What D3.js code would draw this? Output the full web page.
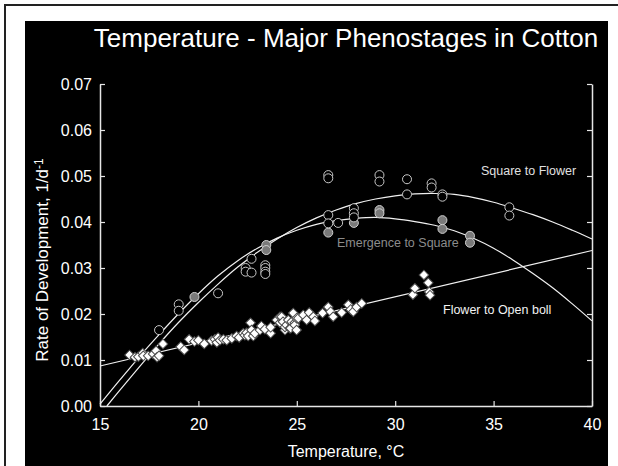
<!DOCTYPE html>
<html>
<head>
<meta charset="utf-8">
<script src="https://cdn.jsdelivr.net/npm/d3@7"></script>
<style>
  body { margin: 0; background: #fff; }
  svg { display: block; font-family: "Liberation Sans", Arial, sans-serif; }
</style>
</head>
<body>
<div id="chart"></div>
<script>
const sqFlowerT = [18.0, 19.0, 19.0, 21.0, 22.4, 22.4, 22.7, 22.7, 23.4, 23.4, 23.4, 23.4, 26.6, 26.6, 26.6, 26.6, 27.1, 27.9, 27.9, 27.9, 29.2, 29.2, 30.6, 30.6, 31.85, 31.85, 32.4, 32.4, 35.8, 35.8];
const sqFlowerV = [0.0165, 0.0221, 0.0207, 0.0245, 0.0300, 0.0292, 0.0320, 0.0290, 0.0306, 0.0300, 0.0292, 0.0287, 0.0502, 0.0495, 0.0415, 0.0397, 0.0398, 0.0430, 0.0419, 0.0410, 0.0502, 0.0488, 0.0493, 0.0460, 0.0484, 0.0475, 0.0460, 0.0455, 0.0432, 0.0414];

const emSquareT = [19.8, 23.45, 23.45, 26.6, 27.9, 29.2, 29.2, 32.4, 32.4, 33.8, 33.8];
const emSquareV = [0.0237, 0.0350, 0.0339, 0.0377, 0.0398, 0.0426, 0.0419, 0.0404, 0.0385, 0.0370, 0.0355];

const flBollT = [16.5, 16.78, 16.95, 17.17, 17.2, 17.45, 17.7, 17.85, 17.9, 18.0, 18.2, 19.1, 19.28, 19.53, 19.8, 20.0, 20.3, 20.67, 20.84, 20.94, 21.0, 21.1, 21.27, 21.44, 21.7, 21.94, 22.07, 22.28, 22.36, 22.45, 22.53, 22.65, 22.7, 22.79, 22.87, 23.13, 23.2, 23.38, 23.67, 23.67, 23.98, 24.15, 24.15, 24.23, 24.3, 24.4, 24.4, 24.48, 24.57, 24.65, 24.69, 24.74, 24.82, 24.9, 24.9, 24.99, 24.99, 25.08, 25.33, 25.5, 25.63, 25.84, 25.92, 26.31, 26.6, 26.72, 26.85, 27.28, 27.62, 27.74, 27.87, 28.04, 28.3, 30.9, 31.0, 31.46, 31.68, 31.73, 31.77];
const flBollV = [0.0111, 0.0106, 0.0107, 0.0115, 0.0109, 0.0109, 0.0113, 0.0120, 0.0106, 0.0109, 0.0135, 0.0129, 0.0122, 0.0145, 0.0140, 0.0143, 0.0135, 0.0142, 0.0145, 0.0138, 0.0149, 0.0143, 0.0145, 0.0143, 0.0147, 0.0152, 0.0149, 0.0158, 0.0154, 0.0159, 0.0152, 0.0181, 0.0165, 0.0152, 0.0158, 0.0165, 0.0174, 0.0167, 0.0158, 0.0171, 0.0187, 0.0181, 0.0194, 0.0194, 0.0183, 0.0165, 0.0172, 0.0176, 0.0187, 0.0169, 0.0169, 0.0183, 0.0202, 0.0181, 0.0176, 0.0165, 0.0191, 0.0191, 0.0198, 0.0187, 0.0203, 0.0194, 0.0185, 0.0202, 0.0215, 0.0205, 0.0194, 0.0203, 0.0220, 0.0210, 0.0205, 0.0215, 0.0223, 0.0242, 0.0256, 0.0285, 0.0268, 0.0248, 0.0241];

// Fitted curves
const fitSqFlowerT = [15.35, 16, 17, 18, 19, 20, 21, 22, 23, 24, 25, 26, 27, 28, 29, 30, 31, 32, 33, 34, 35, 36, 37, 38, 39, 40];
const fitSqFlowerV = [0, 0.0034, 0.0085, 0.0135, 0.0182, 0.0225, 0.0265, 0.0302, 0.0334, 0.0363, 0.0388, 0.0409, 0.0426, 0.0440, 0.0450, 0.0457, 0.0461, 0.0462, 0.0460, 0.0453, 0.0443, 0.0430, 0.0416, 0.0400, 0.0382, 0.0363];

const fitEmSquareT = [15, 16, 17, 18, 19, 20, 21, 22, 23, 24, 25, 26, 27, 28, 29, 30, 31, 32, 33, 34, 35, 36, 37, 38, 39, 40];
const fitEmSquareV = [0.0004, 0.0056, 0.0107, 0.0155, 0.0201, 0.0244, 0.0283, 0.0316, 0.0343, 0.0365, 0.0382, 0.0395, 0.0403, 0.0408, 0.0410, 0.0407, 0.0401, 0.0393, 0.0381, 0.0364, 0.0343, 0.0317, 0.0288, 0.0257, 0.0222, 0.0185];

const fitFlBollT = [15, 40];
const fitFlBollV = [0.0087, 0.0338];

const xTicks = [15, 20, 25, 30, 35, 40];
const yTicks = [0, 0.01, 0.02, 0.03, 0.04, 0.05, 0.06, 0.07];

const W = 618, H = 466;
const svg = d3.select('#chart').append('svg')
    .attr('width', W)
    .attr('height', H);

// page frame and black panel
svg.append('rect')
    .attr('x', 5).attr('y', 5)
    .attr('width', W + 20).attr('height', H + 20)
    .attr('fill', '#fff')
    .attr('stroke', '#222')
    .attr('stroke-width', 2);

svg.append('rect')
    .attr('x', 25).attr('y', 21)
    .attr('width', 583).attr('height', H - 21)
    .attr('fill', '#000');

const x = d3.scaleLinear().domain([15, 40]).range([100, 592]);
const y = d3.scaleLinear().domain([0, 0.07]).range([406, 84]);

// Title
svg.append('text')
    .attr('x', 346).attr('y', 47)
    .attr('text-anchor', 'middle')
    .attr('fill', '#fff')
    .style('font-size', '26px')
    .text('Temperature - Major Phenostages in Cotton');

// Axes
const axisColor = '#e6e6e6';
const fmt = d3.format('.2f');

const gL = svg.append('g')
    .attr('transform', `translate(${x(15)},0)`)
    .call(d3.axisLeft(y).tickValues(yTicks).tickFormat(fmt).tickSizeInner(-5).tickSizeOuter(0).tickPadding(8));

const gR = svg.append('g')
    .attr('transform', `translate(${x(40)},0)`)
    .call(d3.axisRight(y).tickValues(yTicks).tickFormat('').tickSizeInner(-5).tickSizeOuter(0));

const gB = svg.append('g')
    .attr('transform', `translate(0,${y(0)})`)
    .call(d3.axisBottom(x).tickValues(xTicks).tickFormat(d3.format('d')).tickSizeInner(-5).tickSizeOuter(0).tickPadding(13));

[gL, gR, gB].forEach(g => {
    g.select('.domain').attr('stroke', axisColor).attr('stroke-width', 1.5);
    g.selectAll('.tick line').attr('stroke', axisColor).attr('stroke-width', 1.2);
    g.selectAll('text')
        .attr('fill', '#fff')
        .style('font-size', '16px')
        .style('font-family', '"Liberation Sans", Arial, sans-serif');
});

// Axis titles
svg.append('text')
    .attr('x', 346).attr('y', 457)
    .attr('text-anchor', 'middle')
    .attr('fill', '#fff')
    .style('font-size', '16px')
    .text('Temperature, °C');

const yl = svg.append('text')
    .attr('transform', 'translate(48,260) rotate(-90)')
    .attr('text-anchor', 'middle')
    .attr('fill', '#fff')
    .style('font-size', '17px');
yl.append('tspan').text('Rate of Development, 1/d');
yl.append('tspan').attr('dy', '-0.45em').style('font-size', '12px').text('-1');

// Fitted lines
const line = d3.line()
    .x(d => x(d[0]))
    .y(d => y(d[1]))
    .curve(d3.curveCatmullRom);

const fits = [
    [fitSqFlowerT, fitSqFlowerV],
    [fitEmSquareT, fitEmSquareV],
    [fitFlBollT, fitFlBollV]
];
fits.forEach(([ts, vs]) => {
    svg.append('path')
        .datum(ts.map((t, i) => [t, vs[i]]))
        .attr('fill', 'none')
        .attr('stroke', '#f0f0f0')
        .attr('stroke-width', 1.2)
        .attr('d', line);
});

// Observations
svg.append('g').selectAll('circle')
    .data(emSquareT.map((t, i) => [t, emSquareV[i]]))
    .join('circle')
    .attr('cx', d => x(d[0]))
    .attr('cy', d => y(d[1]))
    .attr('r', 4.5)
    .attr('fill', '#7a7a7a')
    .attr('stroke', '#d0d0d0')
    .attr('stroke-width', 1);

svg.append('g').selectAll('circle')
    .data(sqFlowerT.map((t, i) => [t, sqFlowerV[i]]))
    .join('circle')
    .attr('cx', d => x(d[0]))
    .attr('cy', d => y(d[1]))
    .attr('r', 4.5)
    .attr('fill', '#000')
    .attr('stroke', '#c8c8c8')
    .attr('stroke-width', 1);

const diamond = d3.symbol(d3.symbolSquare, 46);
svg.append('g').selectAll('path')
    .data(flBollT.map((t, i) => [t, flBollV[i]]))
    .join('path')
    .attr('d', diamond)
    .attr('transform', d => `translate(${x(d[0])},${y(d[1])}) rotate(45)`)
    .attr('fill', '#fff')
    .attr('stroke', '#4a4a4a')
    .attr('stroke-width', 1);

// Curve labels
const labels = [
    { text: 'Square to Flower', x: 481, y: 175, color: '#e0e0e0' },
    { text: 'Emergence to Square', x: 337, y: 247, color: '#8c8c8c' },
    { text: 'Flower to Open boll', x: 443, y: 314, color: '#f2f2f2' }
];
labels.forEach(l => {
    svg.append('text')
        .attr('x', l.x).attr('y', l.y)
        .attr('fill', l.color)
        .style('font-size', '12.5px')
        .text(l.text);
});
</script>
</body>
</html>
